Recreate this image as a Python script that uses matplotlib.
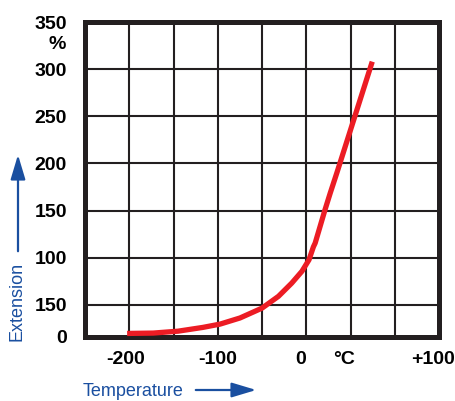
import matplotlib

matplotlib.use("Agg")
import matplotlib.pyplot as plt

# Curve (temperature in °C, extension in axis units)
temperature = [-202.5, -173, -145, -117, -97.5, -75, -50, -31.5, -16.5, -5, 3, 8, 10, 15.5, 21, 27, 34.5, 74.5]
extension = [19.6, 20, 22, 26, 29.5, 36, 46.5, 59, 73, 85.5, 97.7, 111.5, 115.5, 133, 150.5, 168.5, 190, 308]

# Axis labelling (kept as printed in the reference)
y_ticks = [16, 50, 100, 150, 200, 250, 300, 350]
y_labels = ["0", "150", "100", "150", "200", "250", "300", "350"]
x_ticks = [-204, -100, -6, 43, 143]
x_labels = ["-200", "-100", "0", "°C", "+100"]
x_grid = [-200, -150, -100, -50, 0, 50, 100]
y_grid = [50, 100, 150, 200, 250, 300]

RED = "#ec1c24"
BLUE = "#1a4fa0"
INK = "#231f20"

plt.rcParams["font.family"] = ["Liberation Sans", "DejaVu Sans"]

fig = plt.figure(figsize=(4.55, 4.01), dpi=100)
ax = fig.add_axes([0.187, 0.160, 0.778, 0.785])

ax.set_xlim(-250, 150)
ax.set_ylim(16, 350)

# grid
for gx in x_grid:
    ax.axvline(gx, color=INK, lw=1.5, zorder=1)
for gy in y_grid:
    ax.axhline(gy, color=INK, lw=1.5, zorder=1)

ax.plot(temperature, extension, color=RED, lw=3.8, solid_capstyle="butt",
        solid_joinstyle="round", zorder=3)

for s in ax.spines.values():
    s.set_linewidth(3.6)
    s.set_color(INK)

ax.set_yticks(y_ticks)
ax.set_yticklabels(y_labels)
ax.set_xticks(x_ticks)
ax.set_xticklabels(x_labels)
ax.tick_params(length=0, labelsize=14)
ax.tick_params(axis="y", pad=13)
ax.tick_params(axis="x", pad=10)
for lbl in ax.get_xticklabels() + ax.get_yticklabels():
    lbl.set_fontweight("bold")

# percent sign under the top label
ax.text(-0.055, 0.93, "%", transform=ax.transAxes, ha="right", va="center",
        fontsize=14, fontweight="bold")

# axis captions with arrows
fig.text(17 / 455, 1 - 301 / 401, "Extension", rotation=90, ha="center", va="center",
         color=BLUE, fontsize=13)
ax.annotate("", xy=(18 / 455, 1 - 152 / 401), xytext=(18 / 455, 1 - 254 / 401),
            xycoords="figure fraction", textcoords="figure fraction",
            arrowprops=dict(arrowstyle="-|>,head_length=1.0,head_width=0.3",
                            mutation_scale=15, color=BLUE, lw=1.6))

fig.text(133 / 455, 1 - 391 / 401, "Temperature", ha="center", va="center",
         color=BLUE, fontsize=13)
ax.annotate("", xy=(259 / 455, 1 - 390 / 401), xytext=(193 / 455, 1 - 390 / 401),
            xycoords="figure fraction", textcoords="figure fraction",
            arrowprops=dict(arrowstyle="-|>,head_length=1.0,head_width=0.3",
                            mutation_scale=15, color=BLUE, lw=1.6))

fig.savefig("out.png", dpi=100)
